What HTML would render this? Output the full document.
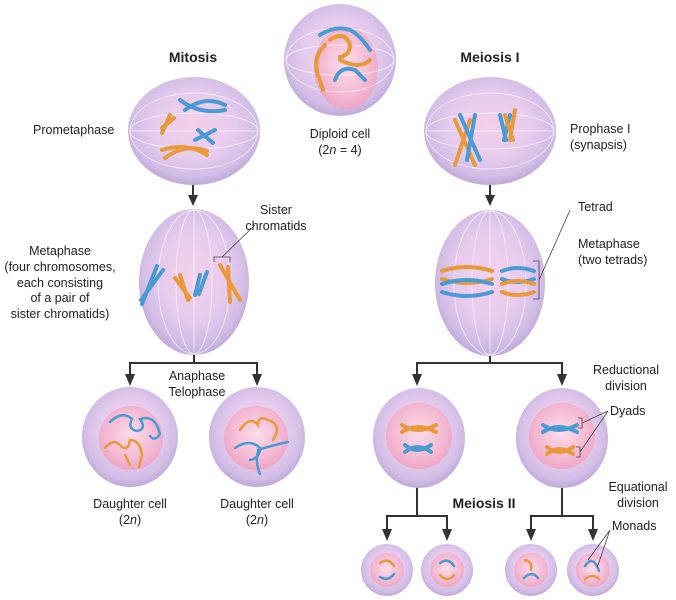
<!DOCTYPE html>
<html><head><meta charset="utf-8"><style>
body{margin:0;background:#fff}
svg{display:block}
text{font-family:"Liberation Sans",sans-serif;font-size:12.5px;fill:#222}
.b{font-weight:bold;font-size:14px}
</style></head><body>
<svg width="676" height="600" viewBox="0 0 676 600">
<defs>
<radialGradient id="cell" cx="50%" cy="45%" r="55%">
<stop offset="0" stop-color="#f3d0ea"/><stop offset="0.55" stop-color="#e6cbed"/><stop offset="0.85" stop-color="#d2bde6"/><stop offset="1" stop-color="#bfa9d8"/>
</radialGradient>
<radialGradient id="nuc" cx="50%" cy="45%" r="55%">
<stop offset="0" stop-color="#fbdcea"/><stop offset="0.7" stop-color="#f4b9d2"/><stop offset="1" stop-color="#eba5c4"/>
</radialGradient>
</defs>
<g stroke="#333" stroke-width="2" fill="none">
<line x1="193" y1="185" x2="193" y2="198"/>
<line x1="490" y1="185" x2="490" y2="198"/>
<path d="M194 354 V363 M130 363 H257"/>
<line x1="130" y1="362" x2="130" y2="376"/>
<line x1="257" y1="362" x2="257" y2="376"/>
<path d="M490 355 V363 M417 363 H562"/>
<line x1="417" y1="362" x2="417" y2="376"/>
<line x1="562" y1="362" x2="562" y2="376"/>
<path d="M417 488 V516 M387 516 H447 M562 488 V516 M531 516 H593"/>
<line x1="387" y1="515" x2="387" y2="531"/>
<line x1="447" y1="515" x2="447" y2="531"/>
<line x1="531" y1="515" x2="531" y2="531"/>
<line x1="593" y1="515" x2="593" y2="531"/>
</g>
<g fill="#333">
<polygon points="188,195 198,195 193,206"/>
<polygon points="485,195 495,195 490,206"/>
<polygon points="125,374 135,374 130,386"/>
<polygon points="252,374 262,374 257,386"/>
<polygon points="412,374 422,374 417,386"/>
<polygon points="557,374 567,374 562,386"/>
<polygon points="382,529 392,529 387,541"/>
<polygon points="442,529 452,529 447,541"/>
<polygon points="526,529 536,529 531,541"/>
<polygon points="588,529 598,529 593,541"/>
</g>
<!-- cells -->
<circle cx="340" cy="60" r="56" fill="url(#cell)"/>
<ellipse cx="346" cy="68" rx="32" ry="41" fill="url(#nuc)"/>
<ellipse cx="194" cy="131" rx="66" ry="54" fill="url(#cell)"/>
<ellipse cx="490" cy="131" rx="66" ry="54" fill="url(#cell)"/>
<ellipse cx="194" cy="282" rx="55" ry="73" fill="url(#cell)"/>
<ellipse cx="490" cy="283" rx="55" ry="73" fill="url(#cell)"/>
<g fill="none" stroke="#fff" stroke-opacity="0.6" stroke-width="1">
<ellipse cx="340" cy="60" rx="54" ry="15"/><ellipse cx="340" cy="60" rx="54" ry="32"/>
<ellipse cx="194" cy="131" rx="64" ry="18"/><ellipse cx="194" cy="131" rx="64" ry="38"/><line x1="130" y1="131" x2="258" y2="131"/>
<ellipse cx="490" cy="131" rx="64" ry="18"/><ellipse cx="490" cy="131" rx="64" ry="38"/><line x1="426" y1="131" x2="554" y2="131"/>
<ellipse cx="194" cy="282" rx="18" ry="72"/><ellipse cx="194" cy="282" rx="36" ry="72"/><line x1="194" y1="210" x2="194" y2="354"/>
<ellipse cx="490" cy="283" rx="18" ry="72"/><ellipse cx="490" cy="283" rx="36" ry="72"/><line x1="490" y1="211" x2="490" y2="355"/>
</g>
<g>
<ellipse cx="130" cy="437" rx="48" ry="50" fill="url(#cell)"/><circle cx="131" cy="438" r="32" fill="url(#nuc)"/>
<ellipse cx="257" cy="437" rx="48" ry="50" fill="url(#cell)"/><circle cx="256" cy="438" r="32" fill="url(#nuc)"/>
<ellipse cx="419" cy="438" rx="46" ry="50" fill="url(#cell)"/><circle cx="419" cy="436" r="33" fill="url(#nuc)"/>
<ellipse cx="562" cy="438" rx="46" ry="50" fill="url(#cell)"/><circle cx="562" cy="436" r="33" fill="url(#nuc)"/>
<circle cx="387" cy="570" r="26" fill="url(#cell)"/><circle cx="387" cy="570" r="17" fill="url(#nuc)"/>
<circle cx="447" cy="570" r="26" fill="url(#cell)"/><circle cx="447" cy="570" r="17" fill="url(#nuc)"/>
<circle cx="531" cy="570" r="26" fill="url(#cell)"/><circle cx="531" cy="570" r="17" fill="url(#nuc)"/>
<circle cx="593" cy="570" r="26" fill="url(#cell)"/><circle cx="593" cy="570" r="17" fill="url(#nuc)"/>
</g>
<!-- chromosomes -->
<g fill="none" stroke-width="4" stroke-linecap="round">
<path d="M330 40 q15 -10 20 5 q0 10 -10 12 M325 45 q-15 15 -5 35 l3 10" stroke="#e89a3a"/><path d="M340 60 q20 10 30 0" stroke="#e89a3a"/>
<path d="M320 35 q15 -10 30 -5 q10 5 20 20" stroke="#4a9ad4"/><path d="M335 80 q5 -15 20 -10 l10 10" stroke="#4a9ad4"/>
<path d="M180 100 q20 15 45 10 M185 110 q20 -15 40 -5" stroke="#4a9ad4"/><path d="M162 150 q25 -8 45 5 M165 158 q20 -15 42 -7" stroke="#e89a3a"/>
<path d="M195 140 l20 -10 M198 130 l15 13" stroke="#4a9ad4"/><path d="M170 115 l-8 18 M174 118 l-12 10" stroke="#e89a3a"/>
<path d="M455 120 l20 45 M470 120 l-15 45" stroke="#e89a3a"/><path d="M460 115 l20 45 M475 115 l-8 45" stroke="#4a9ad4"/>
<path d="M500 115 l6 25 M510 115 l-6 25" stroke="#4a9ad4"/><path d="M505 115 l8 25 M515 110 l-5 30" stroke="#e89a3a"/>
<path d="M157 266 l-15 38 M163 270 l-22 30" stroke="#4a9ad4"/><path d="M180 275 l8 25 M175 278 l15 20" stroke="#e89a3a"/>
<path d="M200 275 l-5 20 M207 272 l-8 22" stroke="#4a9ad4"/><path d="M220 265 l20 35 M228 267 l2 35" stroke="#e89a3a"/>
<path d="M442 271 q25 -8 50 0 M442 279 q25 8 50 0" stroke="#e89a3a"/><path d="M442 284 q25 -8 50 0 M442 292 q25 8 50 0" stroke="#4a9ad4"/>
<path d="M502 271 q15 -6 32 0 M502 279 q15 6 32 0" stroke="#4a9ad4"/><path d="M502 284 q15 -6 32 0 M502 292 q15 6 32 0" stroke="#e89a3a"/>
<g stroke-width="2.5">
<path d="M110 422 q12 -12 22 -3 q-5 10 5 12 q10 -2 3 -12 q15 -5 20 15 q-5 8 -10 2" stroke="#4a9ad4"/><path d="M105 448 q8 -10 15 -3 q8 8 10 -5 q10 0 12 15 l-3 12 M125 455 l5 10" stroke="#e89a3a"/>
<path d="M240 430 q10 -15 18 -5 q0 -10 10 -5 q15 5 5 20" stroke="#e89a3a"/><path d="M235 448 q15 -10 25 0 q0 10 -10 12 M258 450 q15 -5 30 -8 M258 452 q-3 10 2 22" stroke="#4a9ad4"/>
</g>
<path d="M402 425 q15 10 34 0 M402 432 q15 -10 34 0" stroke="#e89a3a"/><path d="M405 445 q12 10 26 0 M405 452 q12 -10 26 0" stroke="#4a9ad4"/>
<path d="M543 425 q15 10 34 0 M543 432 q15 -10 34 0" stroke="#4a9ad4"/><path d="M547 447 q12 10 26 0 M547 454 q12 -10 26 0" stroke="#e89a3a"/>
<g stroke-width="2.5"><path d="M380 563 q8 -6 14 3" stroke="#e89a3a"/><path d="M380 577 q8 5 14 -3" stroke="#4a9ad4"/>
<path d="M440 563 q8 -6 14 3" stroke="#4a9ad4"/><path d="M440 575 q8 8 14 0" stroke="#e89a3a"/>
<path d="M525 560 q8 2 6 10" stroke="#e89a3a"/><path d="M524 578 q8 -8 14 0" stroke="#4a9ad4"/>
<path d="M585 566 q8 -12 14 5" stroke="#4a9ad4"/><path d="M585 579 q8 -6 14 0" stroke="#e89a3a"/></g>
</g>
<g fill="none" stroke="#444" stroke-width="0.8">
<path d="M214 262 v-5 h16 v5 M222 257 l33 -32"/>
<path d="M533 261 h6 v38 h-6 M539 280 L570 210"/>
<path d="M578 418 h4 v10 h-4 M576 447 h4 v10 h-4 M582 423 L608 411 M580 452 L608 411"/>
<path d="M588 560 L610 530 M597 568 L610 530"/>
</g>
<text x="193" y="62" class="b" text-anchor="middle">Mitosis</text>
<text x="490" y="62" class="b" text-anchor="middle">Meiosis I</text>
<text x="484" y="508" class="b" text-anchor="middle">Meiosis II</text>
<text x="33" y="134">Prometaphase</text>
<text x="340" y="138" text-anchor="middle">Diploid cell</text>
<text x="340" y="154" text-anchor="middle">(2<tspan font-style="italic">n</tspan> = 4)</text>
<text x="570" y="133">Prophase I</text><text x="570" y="149">(synapsis)</text>
<text x="276" y="214" text-anchor="middle">Sister</text><text x="276" y="230" text-anchor="middle">chromatids</text>
<text x="60" y="255" text-anchor="middle">Metaphase</text>
<text x="60" y="271" text-anchor="middle">(four chromosomes,</text>
<text x="60" y="287" text-anchor="middle">each consisting</text>
<text x="60" y="302" text-anchor="middle">of a pair of</text>
<text x="60" y="318" text-anchor="middle">sister chromatids)</text>
<text x="578" y="211">Tetrad</text>
<text x="578" y="248">Metaphase</text><text x="578" y="264">(two tetrads)</text>
<text x="197" y="380" text-anchor="middle">Anaphase</text><text x="197" y="396" text-anchor="middle">Telophase</text>
<text x="130" y="508" text-anchor="middle">Daughter cell</text><text x="130" y="524" text-anchor="middle">(2<tspan font-style="italic">n</tspan>)</text>
<text x="257" y="508" text-anchor="middle">Daughter cell</text><text x="257" y="524" text-anchor="middle">(2<tspan font-style="italic">n</tspan>)</text>
<text x="626" y="374" text-anchor="middle">Reductional</text><text x="626" y="390" text-anchor="middle">division</text>
<text x="610" y="415">Dyads</text>
<text x="638" y="491" text-anchor="middle">Equational</text><text x="638" y="507" text-anchor="middle">division</text>
<text x="612" y="530">Monads</text>
</svg>
</body></html>
